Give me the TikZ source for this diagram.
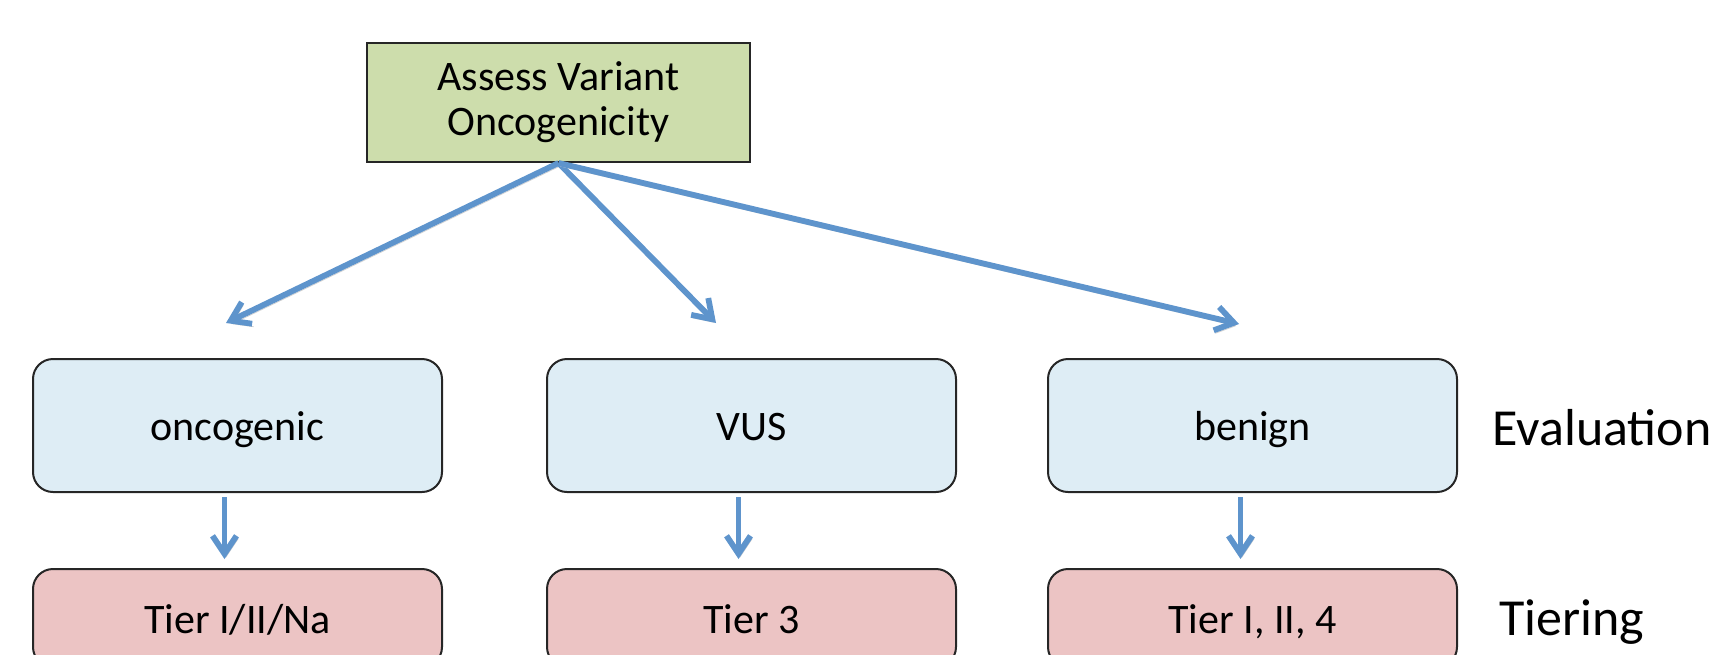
\documentclass[tikz,border=0pt]{standalone}
\usepackage{fontspec}
\setmainfont{Carlito}
\usetikzlibrary{arrows.meta,positioning}

\definecolor{assessgreen}{RGB}{205,221,172}
\definecolor{evalblue}{RGB}{222,237,245}
\definecolor{tierpink}{RGB}{236,196,196}
\definecolor{arrowblue}{RGB}{94,148,204}

\begin{document}
\begin{tikzpicture}[x=0.5pt, y=-0.5pt, node distance=37.5pt,
    topbox/.style={rectangle, draw=black!85, line width=1pt, fill=assessgreen, minimum width=191.5pt, minimum height=59.5pt, align=center, font=\fontsize{21}{22.5}\selectfont},
    evalbox/.style={rectangle, rounded corners=10pt, draw=black!85, line width=1pt, fill=evalblue, minimum width=204.5pt, minimum height=66.5pt, text height=20pt, text depth=5pt, font=\fontsize{21}{25}\selectfont},
    tierbox/.style={evalbox, fill=tierpink, minimum height=49pt},
    rowlabel/.style={anchor=base west, inner sep=0pt, font=\fontsize{26}{30}\selectfont},
    arrow/.style={-{Straight Barb[length=9pt, width=12pt]}, draw=arrowblue, line width=2.9pt,
        preaction={draw=black!18, transform canvas={xshift=0.8pt, yshift=-1.5pt}}}]

    \useasboundingbox (0,0) rectangle (1715,654);

    \node[topbox] (assess) at (558.5,102.5) {Assess Variant\\Oncogenicity};

    \node[evalbox] (onco) at (237.5,425.5) {oncogenic};
    \node[evalbox] (vus) at (751.5,425.5) {VUS};
    \node[evalbox] (benign) at (1252.5,425.5) {benign};

    \node[tierbox, below=of onco] (tieronco) {Tier I/II/Na};
    \node[tierbox, below=of vus] (tiervus) {Tier 3};
    \node[tierbox, below=of benign] (tierbenign) {Tier I, II, 4};

    \node[rowlabel] (evallabel) at (1492,445) {Evaluation};
    \node[rowlabel] (tierlabel) at (1499,635) {Tiering};

    \coordinate (oncotip) at (226,323);
    \coordinate (vustip) at (716,323);
    \coordinate (benigntip) at (1239,324);

    \draw[arrow] (assess.south) -- (oncotip);
    \draw[arrow] (assess.south) -- (vustip);
    \draw[arrow] (assess.south) -- (benigntip);

    \draw[arrow] ([xshift=-6.5pt,yshift=-2pt]onco.south) -- ([xshift=-6.5pt,yshift=4.5pt]tieronco.north);
    \draw[arrow] ([xshift=-6.5pt,yshift=-2pt]vus.south) -- ([xshift=-6.5pt,yshift=4.5pt]tiervus.north);
    \draw[arrow] ([xshift=-6pt,yshift=-2pt]benign.south) -- ([xshift=-6pt,yshift=4.5pt]tierbenign.north);
\end{tikzpicture}
\end{document}
